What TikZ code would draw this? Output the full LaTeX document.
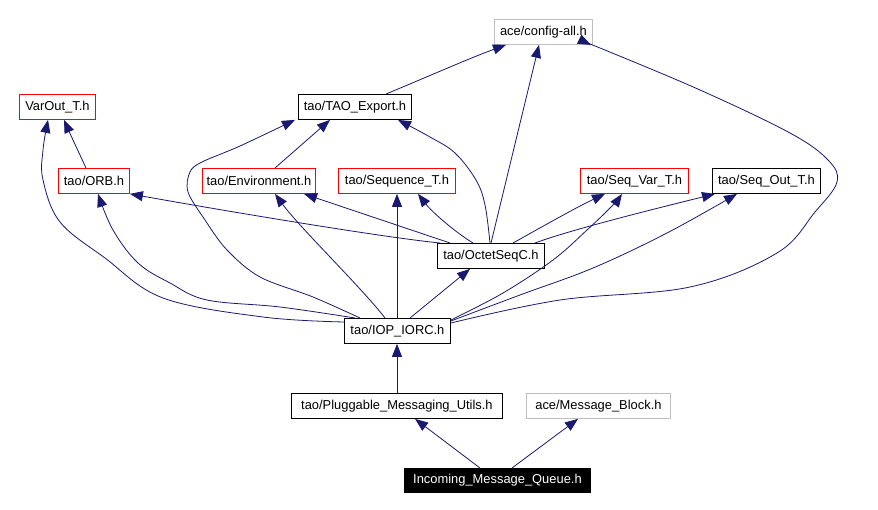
\documentclass[tikz,border=0pt]{standalone}
\usepackage{fontspec}
\setmainfont{Liberation Sans}
\usetikzlibrary{arrows.meta}
\definecolor{edgeblue}{HTML}{191970}
\definecolor{boxgray}{HTML}{BFBFBF}
\begin{document}
\begin{tikzpicture}[x=1pt,y=-1pt,
  filebox/.style={draw=black,line width=0.9pt,anchor=north west,minimum height=25pt,inner sep=0pt,font=\fontsize{12.9}{15}\selectfont},
  redbox/.style={filebox,draw=red},
  graybox/.style={filebox,draw=boxgray},
  mainbox/.style={filebox,fill=black,text=white},
  dep/.style={draw=edgeblue,line width=0.8pt,-{Triangle[length=13pt,width=10pt]}}]
\useasboundingbox (0,0) rectangle (878,510);
\fill[white] (0,0) rectangle (878,510);
% nodes
\node[graybox,minimum width=98pt] (cfg) at (494,19) {ace/config-all.h};
\node[redbox,minimum width=76pt] (varout) at (19,94) {VarOut\_T.h};
\node[filebox,minimum width=113pt] (taoexp) at (298,94) {tao/TAO\_Export.h};
\node[redbox,minimum width=71pt] (orb) at (58,168) {tao/ORB.h};
\node[redbox,minimum width=113pt] (env) at (202,168) {tao/Environment.h};
\node[redbox,minimum width=117pt] (seqT) at (338,168) {tao/Sequence\_T.h};
\node[redbox,minimum width=108pt] (seqvar) at (580,168) {tao/Seq\_Var\_T.h};
\node[filebox,minimum width=108pt] (seqout) at (712,168) {tao/Seq\_Out\_T.h};
\node[filebox,minimum width=107pt] (octet) at (437,243) {tao/OctetSeqC.h};
\node[filebox,minimum width=106pt] (iop) at (344,318) {tao/IOP\_IORC.h};
\node[filebox,minimum width=211pt] (plug) at (291,393) {tao/Pluggable\_Messaging\_Utils.h};
\node[graybox,minimum width=144pt] (msgblk) at (526,393) {ace/Message\_Block.h};
\node[mainbox,minimum width=186pt,minimum height=24pt] (inc) at (404,468) {Incoming\_Message\_Queue.h};
% edges
\draw[dep] ([xshift=88pt]taoexp.north west) .. controls (420,80) and (470,58) .. ([xshift=12pt]cfg.south west);
\draw[dep] ([xshift=54pt]octet.north west) -- ([xshift=45pt]cfg.south west);
\draw[dep] plot[smooth,tension=0.6] coordinates {([yshift=-5pt]iop.north east) (560,300) (690,287) (777,253) (815,212) (837,182) (828,160) (790,133) (700,90) (600,48) ([xshift=-2pt]cfg.south east)};
\draw[dep] ([xshift=28pt]orb.north west) .. controls (80,155) and (72,138) .. ([xshift=45pt]varout.south west);
\draw[dep] plot[smooth,tension=0.6] coordinates {([yshift=-4pt]iop.north west) (263,317) (163,298) (105,258) (60,222) (43,180) (43,150) ([xshift=29pt]varout.south west)};
\draw[dep] plot[smooth,tension=0.6] coordinates {([xshift=11pt]iop.north west) (280,307) (207,300) (170,283) (138,263) (113,230) ([xshift=40pt]orb.south west)};
\draw[dep] plot[smooth,tension=0.55] coordinates {([xshift=16pt]iop.north west) (313,297) (260,277) (227,250) (205,220) (188,192) (190,172) (202,162) (240,146) ([xshift=-3pt]taoexp.south west)};
\draw[dep] ([xshift=73pt]env.north west) -- ([xshift=32pt]taoexp.south west);
\draw[dep] plot[smooth,tension=0.6] coordinates {([xshift=53pt]octet.north west) (485,205) (476,180) (455,153) (430,137) ([xshift=100pt]taoexp.south west)};
\draw[dep] ([xshift=3pt]octet.north west) .. controls (380,237) and (220,210) .. (orb.south east);
\draw[dep] ([xshift=13pt]octet.north west) -- ([xshift=102pt]env.south west);
\draw[dep] ([xshift=41pt]iop.north west) .. controls (362,288) and (300,228) .. ([xshift=73pt]env.south west);
\draw[dep] ([xshift=53pt]iop.north west) -- ([xshift=59pt]seqT.south west);
\draw[dep] ([xshift=36pt]octet.north west) .. controls (455,232) and (432,212) .. ([xshift=80pt]seqT.south west);
\draw[dep] ([xshift=76pt]octet.north west) .. controls (540,228) and (575,208) .. ([xshift=25pt]seqvar.south west);
\draw[dep] plot[smooth,tension=0.6] coordinates {([yshift=-2pt]iop.north east) (503,293) (553,260) (587,230) (612,206) ([xshift=42pt]seqvar.south west)};
\draw[dep] ([xshift=98pt]octet.north west) .. controls (570,230) and (650,210) .. ([xshift=3pt]seqout.south west);
\draw[dep] plot[smooth,tension=0.6] coordinates {([yshift=-3pt]iop.north east) (520,295) (593,268) (667,233) ([xshift=25pt]seqout.south west)};
\draw[dep] ([xshift=66pt]iop.north west) -- ([xshift=33pt]octet.south west);
\draw[dep] ([xshift=106pt]plug.north west) -- ([xshift=53pt]iop.south west);
\draw[dep] ([xshift=76pt]inc.north west) -- ([xshift=124pt]plug.south west);
\draw[dep] ([xshift=108pt]inc.north west) -- ([xshift=52pt]msgblk.south west);
\end{tikzpicture}
\end{document}
